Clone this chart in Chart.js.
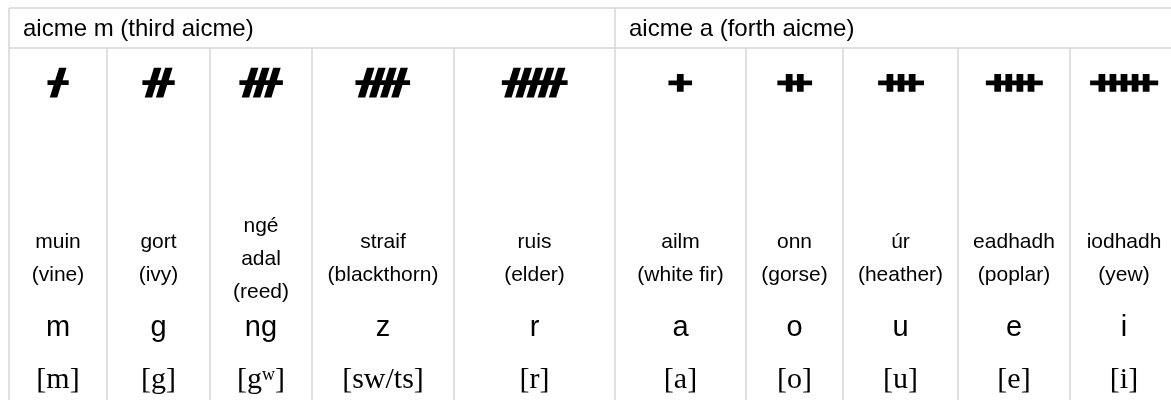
<!DOCTYPE html>
<html>
<head>
<meta charset="utf-8">
<script src="https://cdn.jsdelivr.net/npm/chart.js@4"></script>
<style>
  html, body { margin: 0; padding: 0; background: #fff; }
  #wrap { width: 1171px; height: 400px; }
</style>
</head>
<body>
<div id="wrap"><canvas id="oghamChart" width="1171" height="400"></canvas></div>
<script>
// table content
const groups = ["aicme m (third aicme)", "aicme a (forth aicme)"];
const groupSpans = [[0, 5], [5, 10]];
const ogham = ["ᚋ", "ᚌ", "ᚍ", "ᚎ", "ᚏ", "ᚐ", "ᚑ", "ᚒ", "ᚓ", "ᚔ"];
const names = [
  ["muin", "(vine)"], ["gort", "(ivy)"], ["ngé", "adal", "(reed)"],
  ["straif", "(blackthorn)"], ["ruis", "(elder)"], ["ailm", "(white fir)"],
  ["onn", "(gorse)"], ["úr", "(heather)"], ["eadhadh", "(poplar)"], ["iodhadh", "(yew)"]
];
const letters = ["m", "g", "ng", "z", "r", "a", "o", "u", "e", "i"];
const ipa = ["[m]", "[g]", "[gʷ]", "[sw/ts]", "[r]", "[a]", "[o]", "[u]", "[e]", "[i]"];

// layout (value units = pixels)
const colEdges = [9, 107, 210, 312, 454, 615, 746, 843, 958, 1070, 1178];
const tableTop = 8, headerBottom = 48, tableBottom = 400;
const rowY = { header: 29, ogham: 84, names: 259, letters: 328, ipa: 380 };
const lineGap = 33;
const gridColor = "#d6d6d6";

const centers = colEdges.slice(0, -1).map((e, i) => (e + colEdges[i + 1]) / 2);
const rowPoints = y => centers.map(x => ({ x, y }));

// draws the cell borders and the cell texts from the scales
const tablePlugin = {
  id: "tableCells",
  afterDatasetsDraw(chart) {
    const { ctx, scales: { x, y } } = chart;
    ctx.save();
    ctx.strokeStyle = gridColor;
    ctx.lineWidth = 1.5;
    const hline = (v, x0, x1) => {
      ctx.beginPath();
      ctx.moveTo(x.getPixelForValue(x0), y.getPixelForValue(v));
      ctx.lineTo(x.getPixelForValue(x1), y.getPixelForValue(v));
      ctx.stroke();
    };
    const vline = (v, y0, y1) => {
      ctx.beginPath();
      ctx.moveTo(x.getPixelForValue(v), y.getPixelForValue(y0));
      ctx.lineTo(x.getPixelForValue(v), y.getPixelForValue(y1));
      ctx.stroke();
    };
    const last = colEdges[colEdges.length - 1];
    hline(tableTop, colEdges[0], last);
    hline(headerBottom, colEdges[0], last);
    groupSpans.forEach(([a]) => vline(colEdges[a], tableTop, tableBottom));
    colEdges.slice(1, -1).forEach((e, i) => {
      if (!groupSpans.some(([a]) => a === i + 1)) vline(e, headerBottom, tableBottom);
    });

    ctx.fillStyle = "#000";
    chart.data.datasets.forEach((ds, di) => {
      const meta = chart.getDatasetMeta(di);
      ctx.font = ds.font;
      ctx.textAlign = ds.align;
      ctx.textBaseline = "middle";
      meta.data.forEach((pt, i) => {
        const lines = [].concat(ds.texts[i]);
        const y0 = pt.y - (lines.length - 1) * lineGap / 2;
        lines.forEach((t, k) => ctx.fillText(t, pt.x, y0 + k * lineGap));
      });
    });
    ctx.restore();
  }
};

new Chart(document.getElementById("oghamChart"), {
  type: "scatter",
  data: {
    datasets: [
      {
        data: groupSpans.map(([a]) => ({ x: colEdges[a] + 14, y: rowY.header })),
        texts: groups, font: "24px 'Liberation Sans', Arial, sans-serif", align: "left"
      },
      { data: rowPoints(rowY.ogham), texts: ogham, font: "bold 36px 'DejaVu Sans'", align: "center" },
      { data: rowPoints(rowY.names), texts: names, font: "21px 'Liberation Sans', Arial, sans-serif", align: "center" },
      { data: rowPoints(rowY.letters), texts: letters, font: "29px 'Liberation Sans', Arial, sans-serif", align: "center" },
      { data: rowPoints(rowY.ipa), texts: ipa, font: "30px 'Liberation Serif', 'Times New Roman', serif", align: "center" }
    ].map(d => Object.assign(d, { pointRadius: 0, pointHoverRadius: 0 }))
  },
  options: {
    responsive: false,
    animation: false,
    events: [],
    layout: { padding: 0 },
    scales: {
      x: { type: "linear", min: 0, max: 1171, display: false },
      y: { type: "linear", min: 0, max: 400, reverse: true, display: false }
    },
    plugins: { legend: { display: false }, tooltip: { enabled: false } }
  },
  plugins: [tablePlugin]
});
</script>
</body>
</html>
